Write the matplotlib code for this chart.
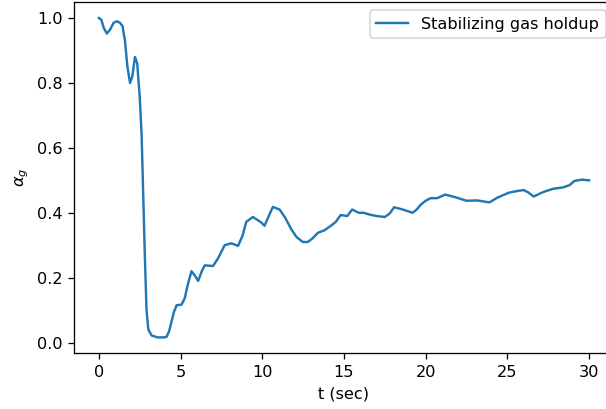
import matplotlib
matplotlib.use("Agg")
import matplotlib.pyplot as plt

# Time (s) and stabilizing gas holdup readings
t = [0.0, 0.15, 0.3, 0.49, 0.7, 0.9, 1.1, 1.3, 1.45, 1.6, 1.75, 1.91, 2.05, 2.21,
     2.35, 2.5, 2.62, 2.72, 2.82, 2.92, 3.03, 3.23, 3.6, 4.0, 4.15, 4.3, 4.45,
     4.6, 4.76, 5.06, 5.26, 5.45, 5.67, 5.9, 6.08, 6.3, 6.48, 6.99, 7.3, 7.7,
     8.1, 8.52, 8.8, 9.02, 9.43, 9.94, 10.14, 10.4, 10.65, 11.06, 11.4, 11.77,
     12.1, 12.48, 12.79, 13.1, 13.4, 13.8, 14.2, 14.5, 14.8, 15.2, 15.5, 15.9,
     16.2, 16.6, 17.0, 17.5, 17.8, 18.07, 18.6, 19.2, 19.45, 19.7, 20.0, 20.3,
     20.7, 21.2, 21.8, 22.5, 23.15, 23.9, 24.4, 25.1, 25.6, 26.0, 26.3, 26.6,
     27.2, 27.8, 28.4, 28.8, 29.1, 29.55, 30.0]
alpha_g = [1.0, 0.995, 0.97, 0.952, 0.965, 0.985, 0.99, 0.985, 0.975, 0.93, 0.85,
           0.80, 0.82, 0.88, 0.86, 0.76, 0.64, 0.45, 0.26, 0.10, 0.04, 0.022,
           0.016, 0.016, 0.018, 0.035, 0.065, 0.095, 0.115, 0.117, 0.137, 0.18,
           0.22, 0.205, 0.19, 0.22, 0.238, 0.236, 0.26, 0.30, 0.306, 0.298, 0.33,
           0.372, 0.387, 0.37, 0.36, 0.39, 0.418, 0.41, 0.385, 0.35, 0.325, 0.31,
           0.31, 0.322, 0.338, 0.346, 0.36, 0.372, 0.393, 0.39, 0.41, 0.40, 0.40,
           0.394, 0.39, 0.387, 0.398, 0.417, 0.41, 0.40, 0.41, 0.425, 0.437, 0.445,
           0.445, 0.456, 0.448, 0.437, 0.438, 0.432, 0.447, 0.462, 0.467, 0.47,
           0.462, 0.45, 0.464, 0.474, 0.478, 0.485, 0.498, 0.502, 0.50]

DPI = 116
fig = plt.figure(figsize=(606 / DPI, 409 / DPI), dpi=DPI)
ax = fig.add_axes([0.1226, 0.136, 0.890, 0.859])
ax.plot(t, alpha_g, color="#1f77b4", linewidth=1.5, label="Stabilizing gas holdup")
ax.set_xlabel("t (sec)")
ax.set_ylabel(r"$\alpha_g$")
ax.set_xticks([0, 5, 10, 15, 20, 25, 30])
ax.set_yticks([0.0, 0.2, 0.4, 0.6, 0.8, 1.0])
ax.legend(loc="upper right")
fig.savefig("out.png", dpi=DPI)
